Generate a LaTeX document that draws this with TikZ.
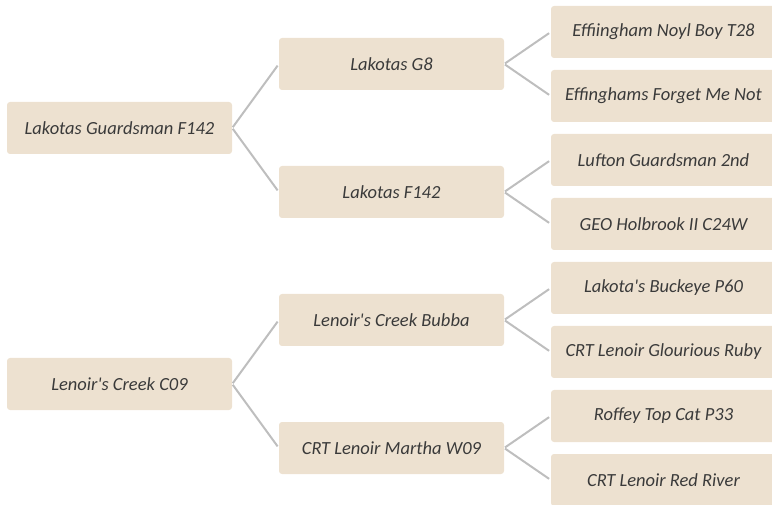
\documentclass[tikz,border=0pt]{standalone}
\usepackage{fontspec}
\setmainfont{Carlito}
\usepackage{tikz}
\usetikzlibrary{graphs}
\usepackage{xcolor}
\definecolor{boxfill}{HTML}{EDE1D0}
\definecolor{boxtext}{HTML}{3A3A3A}
\definecolor{linkgray}{HTML}{BEBEBE}

\begin{document}
\begin{tikzpicture}[x=1pt, y=-1pt,
        horse/.style={fill=boxfill, text=boxtext, rounded corners=3pt,
            minimum width=225pt, minimum height=52pt, inner sep=0pt,
            font=\fontsize{18.5}{21}\selectfont\itshape},
        link/.style={linkgray, line width=2pt, shorten >=2pt, shorten <=1pt}]
            \useasboundingbox (0,0) rectangle (772,505);

            \node[horse] (a) at (119.5, 128) {Lakotas Guardsman F142};
            \node[horse] (b) at (119.5, 384) {Lenoir\textquotesingle s Creek C09};

            \node[horse] (as) at (391.5, 64) {Lakotas G8};
            \node[horse] (ad) at (391.5, 192) {Lakotas F142};
            \node[horse] (bs) at (391.5, 320) {Lenoir\textquotesingle s Creek Bubba};
            \node[horse] (bd) at (391.5, 448) {CRT Lenoir Martha W09};

            \node[horse] (ass) at (663.5, 32) {Effiingham Noyl Boy T28};
            \node[horse] (asd) at (663.5, 96) {Effinghams Forget Me Not};
            \node[horse] (ads) at (663.5, 160) {Lufton Guardsman 2nd};
            \node[horse] (add) at (663.5, 224) {GEO Holbrook II C24W};
            \node[horse] (bss) at (663.5, 288) {Lakota\textquotesingle s Buckeye P60};
            \node[horse] (bsd) at (663.5, 352) {CRT Lenoir Glourious Ruby};
            \node[horse] (bds) at (663.5, 416) {Roffey Top Cat P33};
            \node[horse] (bdd) at (663.5, 480) {CRT Lenoir Red River};

            \graph {(a.east) --[link] (as.west)};
            \graph {(a.east) --[link] (ad.west)};
            \graph {(b.east) --[link] (bs.west)};
            \graph {(b.east) --[link] (bd.west)};
            \graph {(as.east) --[link] (ass.west)};
            \graph {(as.east) --[link] (asd.west)};
            \graph {(ad.east) --[link] (ads.west)};
            \graph {(ad.east) --[link] (add.west)};
            \graph {(bs.east) --[link] (bss.west)};
            \graph {(bs.east) --[link] (bsd.west)};
            \graph {(bd.east) --[link] (bds.west)};
            \graph {(bd.east) --[link] (bdd.west)};
        \end{tikzpicture}
\end{document}
